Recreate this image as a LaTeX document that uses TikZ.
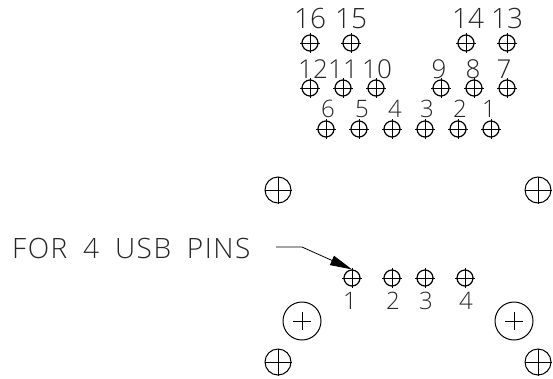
\documentclass[tikz,border=0pt]{standalone}
\usepackage{fontspec}
\newfontfamily\cadfont{Open Sans Light}
\newfontfamily\cadwide[LetterSpace=5.5,WordSpace=1.8]{Open Sans Light}
\usetikzlibrary{arrows.meta}
\tikzset{
    pinlabel/.style={inner sep=0pt, anchor=base, text=black!85},
    rowa/.style={pinlabel, font=\cadfont\fontsize{28}{28}\selectfont},
    rowb/.style={pinlabel, font=\cadfont\fontsize{26}{26}\selectfont},
    rowc/.style={pinlabel, font=\cadfont\fontsize{24}{24}\selectfont},
    callout/.style={inner sep=0pt, anchor=base west, text=black!85, font=\cadwide\fontsize{28}{28}\selectfont},
    pinhole/.style={circle, draw, line width=1.2pt, minimum size=16pt, inner sep=0pt},
    mounthole/.style={circle, draw, line width=1pt, minimum size=26pt, inner sep=0pt},
    bighole/.style={circle, draw, line width=1pt, minimum size=38pt, inner sep=0pt},
}
\begin{document}
\begin{tikzpicture}[x=1pt, y=-1pt]
    \useasboundingbox (0,0) rectangle (553,378);

    % top connector pins
    \foreach \num/\px/\py/\lx/\ly/\rowname in {16/310/43/310/28/rowa, 15/351/43/351/28/rowa, 14/466/43/468/28/rowa, 13/507/43/507/28/rowa,
        12/310/88/313/78/rowb, 11/343/88/343/78/rowb, 10/376/88/377/78/rowb, 9/441/88/439/78/rowb, 8/474/88/473/78/rowb, 7/507/88/504/78/rowb,
        6/326/129/328/117/rowc, 5/359/129/362/117/rowc, 4/392/129/395/117/rowc, 3/425/129/427/117/rowc, 2/458/129/460/117/rowc, 1/491/129/489/117/rowc}{
        \node[pinhole] (top\num) at (\px,\py) {};
        \draw[line width=0.9pt] ([xshift=-1pt]top\num.west)--([xshift=1pt]top\num.east);
        \draw[line width=0.9pt] ([yshift=1pt]top\num.north)--([yshift=-1pt]top\num.south);
        \node[\rowname] (toplabel\num) at (\lx,\ly) {\num};
    }

    % usb pins
    \foreach \num/\px/\lx in {1/352/350, 2/392/393, 3/425/426, 4/465/466}{
        \node[pinhole] (usb\num) at (\px,278) {};
        \draw[line width=0.9pt] ([xshift=-1pt]usb\num.west)--([xshift=1pt]usb\num.east);
        \draw[line width=0.9pt] ([yshift=1pt]usb\num.north)--([yshift=-1pt]usb\num.south);
        \node[rowc] (usblabel\num) at (\lx,309) {\num};
    }

    % mounting holes
    \foreach \holename/\px/\py in {hole1/278/190, hole2/538/190, hole3/278/362, hole4/538/362}{
        \node[mounthole] (\holename) at (\px,\py) {};
        \draw[line width=0.7pt] (\holename.west)--(\holename.east);
        \draw[line width=0.7pt] (\holename.north)--(\holename.south);
    }
    \foreach \holename/\px in {big1/302, big2/514}{
        \node[bighole] (\holename) at (\px,321) {};
        \draw[line width=0.7pt] ([xshift=-9pt]\holename.center)--([xshift=9pt]\holename.center);
        \draw[line width=0.7pt] ([yshift=-9pt]\holename.center)--([yshift=9pt]\holename.center);
    }

    \node[callout] (note) at (12,258) {FOR 4 USB PINS};
    \coordinate (start) at (276,247);
    \coordinate (bend) at (302,247);
    \draw[-{Triangle[length=22pt,width=10pt]}, line width=0.8pt] (start)--(bend)--(usb1.north);
\end{tikzpicture}
\end{document}
